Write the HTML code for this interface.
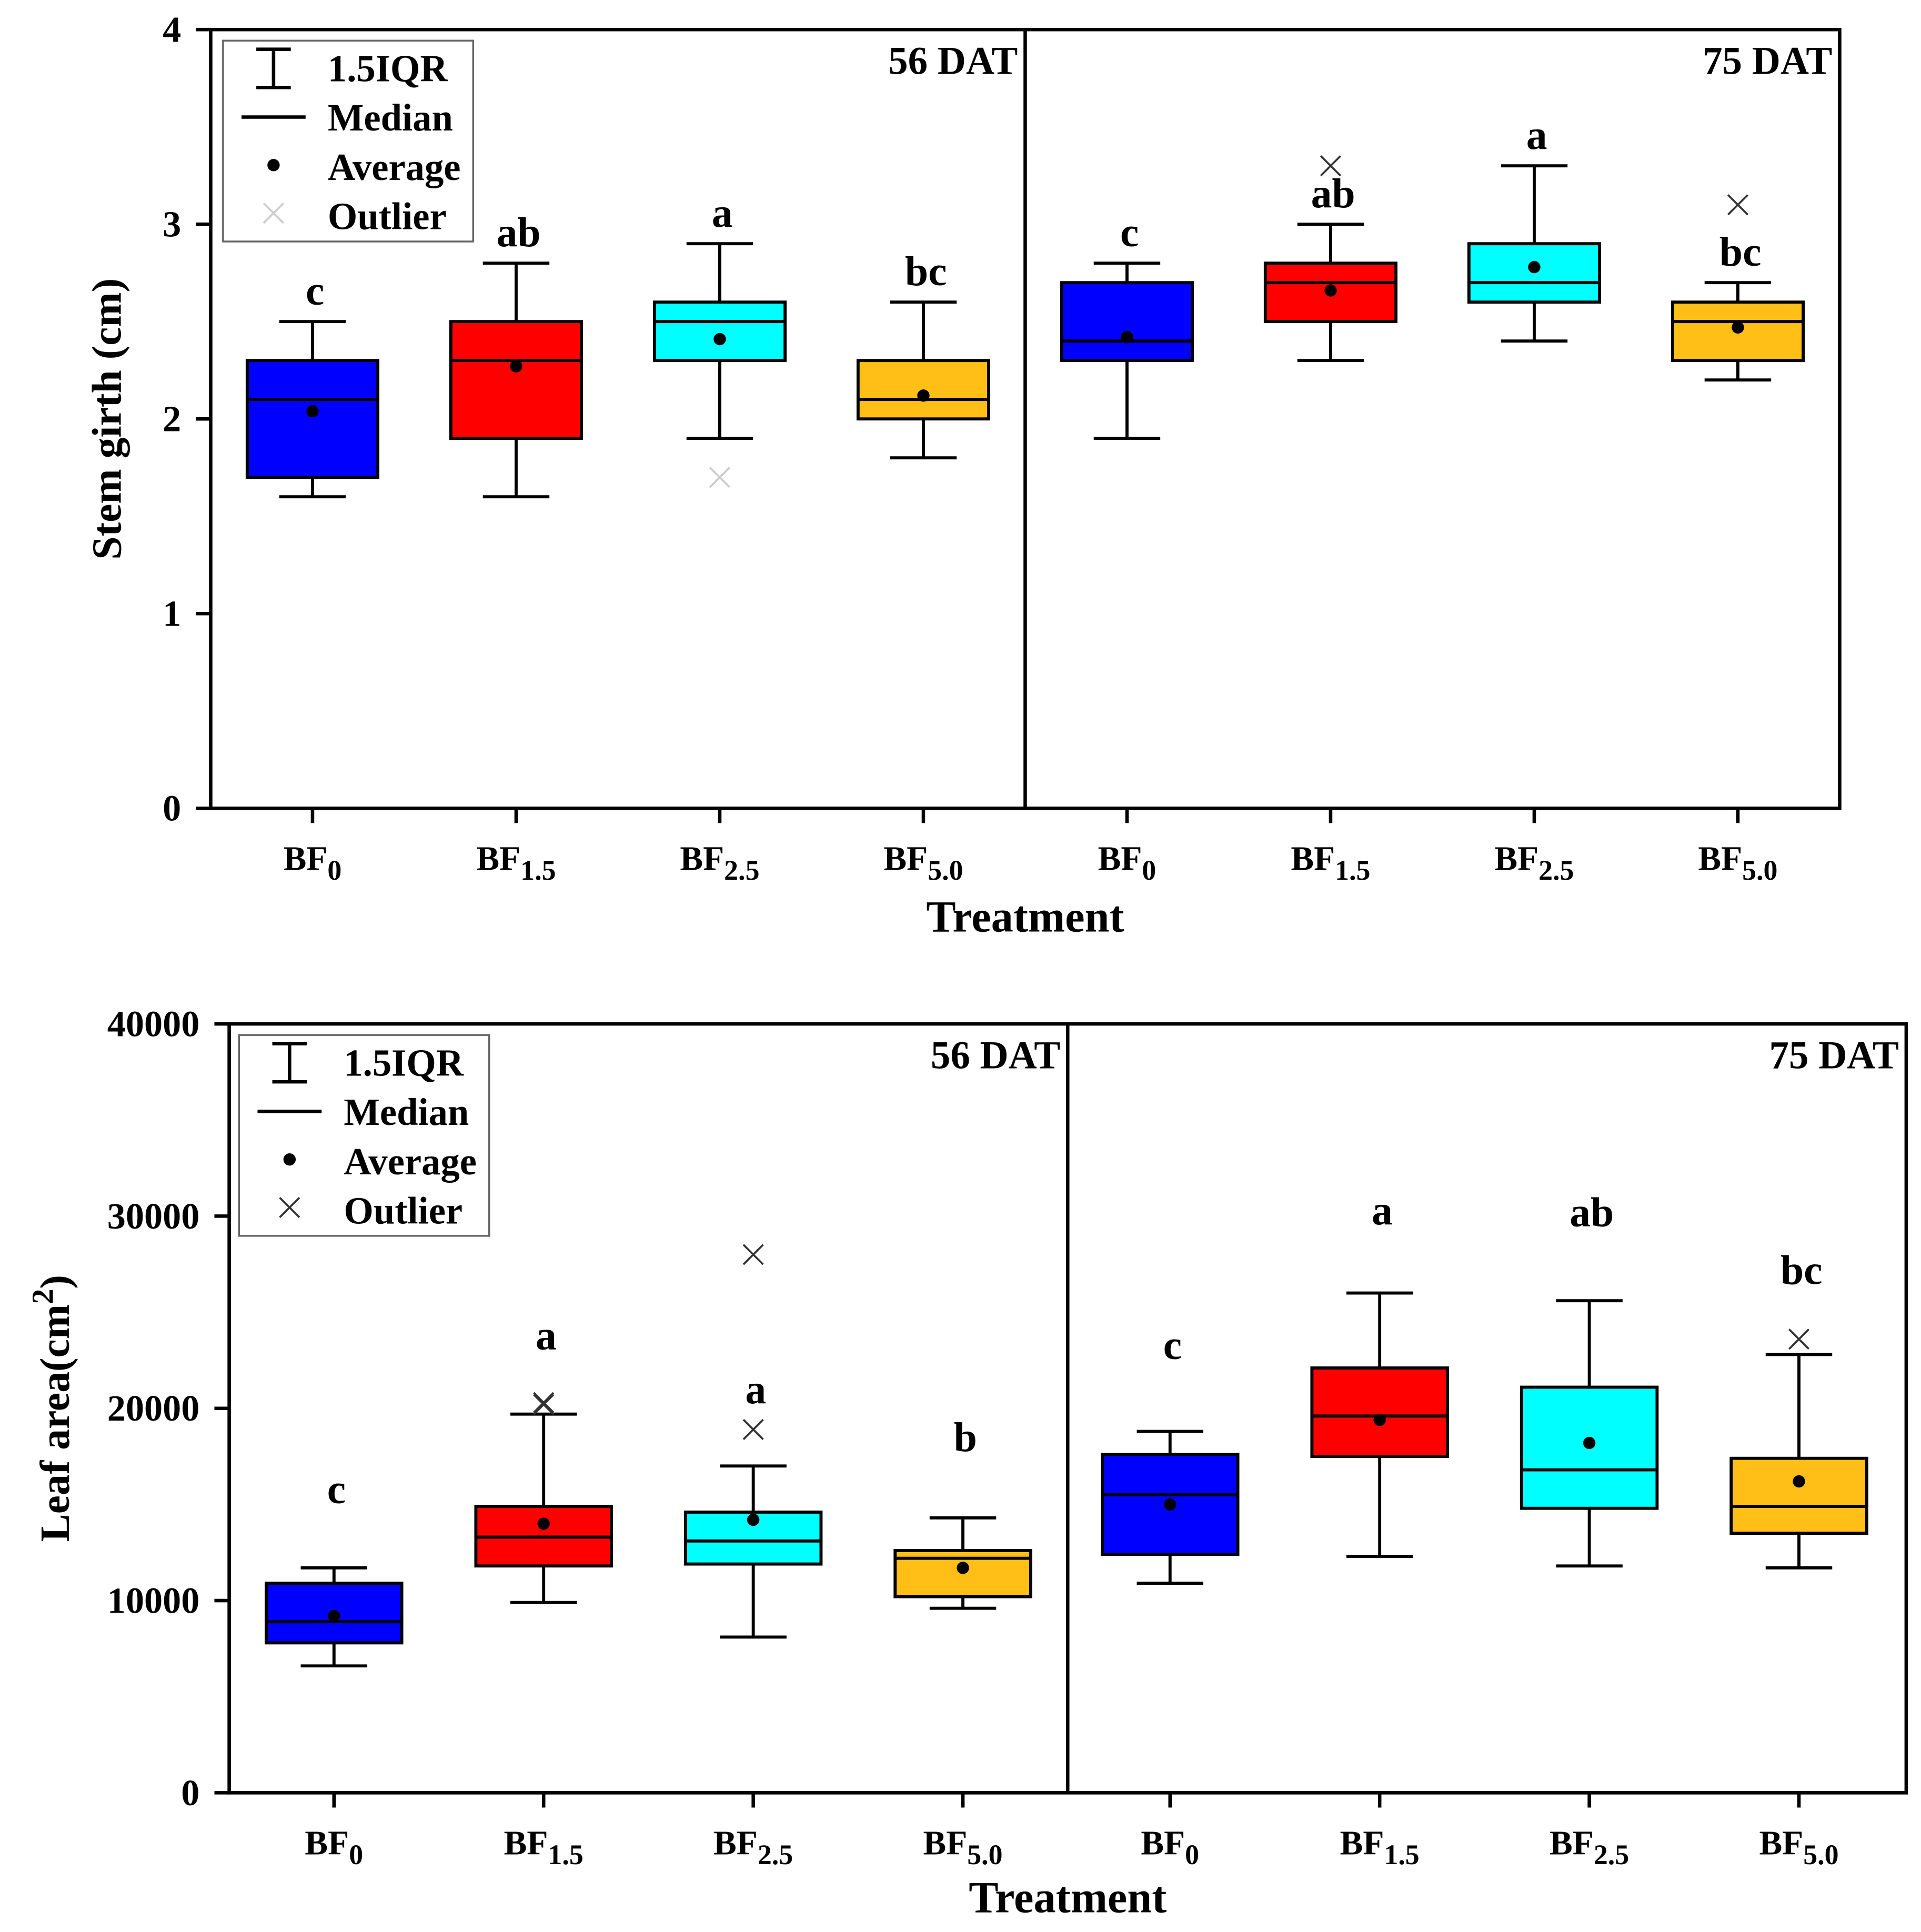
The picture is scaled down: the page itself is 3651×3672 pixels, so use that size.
<!DOCTYPE html>
<html><head><meta charset="utf-8">
<style>html,body{margin:0;padding:0;background:#fff}svg{display:block}text{font-family:"Liberation Serif",serif;font-weight:bold;fill:#000}</style>
</head><body>
<svg id="chart" width="3651" height="3672" viewBox="0 0 1559 1568" preserveAspectRatio="none" xmlns="http://www.w3.org/2000/svg"></svg>
<script>
const categories = ["BF0","BF1.5","BF2.5","BF5.0","BF0","BF1.5","BF2.5","BF5.0"];
const subs = ["0","1.5","2.5","5.0","0","1.5","2.5","5.0"];
const colors = ["#0000ff","#ff0000","#00ffff","#ffbf17","#0000ff","#ff0000","#00ffff","#ffbf17"];
// Stem girth
const sgWhiskLo = [1.6,1.6,1.9,1.8,1.9,2.3,2.4,2.2];
const sgWhiskHi = [2.5,2.8,2.9,2.6,2.8,3.0,3.3,2.7];
const sgQ1 = [1.7,1.9,2.3,2.0,2.3,2.5,2.6,2.3];
const sgQ3 = [2.3,2.5,2.6,2.3,2.7,2.8,2.9,2.6];
const sgMed = [2.1,2.3,2.5,2.1,2.4,2.7,2.7,2.5];
const sgMean = [2.04,2.27,2.41,2.12,2.42,2.66,2.78,2.47];
const sgOutliers = [[],[],[1.7],[],[],[3.3],[],[3.1]];
const sgLetters = ["c","ab","a","bc","c","ab","a","bc"];
const sgLetterY = [2.6,2.9,3.0,2.7,2.9,3.1,3.4,2.8];
const sgTicks = [0,1,2,3,4];
// Leaf area
const laWhiskLo = [6600,9900,8100,9600,10900,12300,11800,11700];
const laWhiskHi = [11700,19700,17000,14300,18800,26000,25600,22800];
const laQ1 = [7800,11800,11900,10200,12400,17500,14800,13500];
const laQ3 = [10900,14900,14600,12600,17600,22100,21100,17400];
const laMed = [8900,13300,13100,12200,15500,19600,16800,14900];
const laMean = [9200,14000,14200,11700,15000,19400,18200,16200];
const laOutliers = [[],[20300,20200],[18900,28000],[],[],[],[],[23600]];
const laLetters = ["c","a","a","b","c","a","ab","bc"];
const laLetterY = [15200,23200,20400,17900,22700,29700,29600,26600];
const laTicks = [0,10000,20000,30000,40000];

const NS="http://www.w3.org/2000/svg";
const svg=document.getElementById('chart');
function mk(tag,attrs,parent){const e=document.createElementNS(NS,tag);for(const k in attrs)e.setAttribute(k,attrs[k]);(parent||svg).appendChild(e);return e;}

function panel(cfg){
  const g=mk('g',{});
  
  
  const y=v=>cfg.y0-(v-cfg.vmin)/(cfg.vmax-cfg.vmin)*(cfg.y0-cfg.y1);
  const step=(cfg.x1-cfg.x0)/8;
  const x=i=>cfg.x0+step*(i+0.5)+(i>=4?cfg.off:0);
  const hw=cfg.hw;
  const fr=mk('rect',{x:cfg.x0,y:cfg.y1,width:cfg.x1-cfg.x0,height:cfg.y0-cfg.y1,fill:'none',stroke:'#000','stroke-width':2.8},g);
  
  
  const dv=mk('line',{x1:(cfg.x0+cfg.x1)/2,x2:(cfg.x0+cfg.x1)/2,y1:cfg.y1,y2:cfg.y0,stroke:'#000','stroke-width':2.8},g);
  
  
  cfg.ticks.forEach(t=>{
    mk('line',{x1:cfg.x0-12,x2:cfg.x0,y1:y(t),y2:y(t),stroke:'#000','stroke-width':2.8},g);
    const tl=mk('text',{x:cfg.x0-24,y:y(t)+10,'text-anchor':'end','font-size':30},g);
    tl.textContent=t;
    
    
  });
  const yt=mk('text',{x:0,y:0,'text-anchor':'middle','font-size':34,transform:`translate(${cfg.ytx},${(cfg.y0+cfg.y1)/2}) rotate(-90)`},g);
  yt.innerHTML=cfg.ytitle;
  
  
  const xt=mk('text',{x:(cfg.x0+cfg.x1)/2,y:cfg.xty,'text-anchor':'middle','font-size':36},g);
  xt.textContent='Treatment';
  
  
  [['56 DAT',(cfg.x0+cfg.x1)/2-6],['75 DAT',cfg.x1-6]].forEach(([s,px])=>{
    const t=mk('text',{x:px,y:cfg.y1+36,'text-anchor':'end','font-size':32},g);
    t.textContent=s;
    
    
  });
  for(let i=0;i<8;i++){
    const cx=x(i);
    mk('line',{x1:cx,x2:cx,y1:cfg.y0,y2:cfg.y0+12,stroke:'#000','stroke-width':2.8},g);
    const xl=mk('text',{x:cx,y:cfg.y0+50,'text-anchor':'middle','font-size':28},g);
    xl.innerHTML='BF<tspan font-size="23" dy="8">'+subs[i]+'</tspan>';
    
    
    const bg=mk('g',{},g);
    
    
    const d=cfg.data;
    mk('line',{x1:cx,x2:cx,y1:y(d.lo[i]),y2:y(d.hi[i]),stroke:'#000','stroke-width':2.5},bg);
    mk('line',{x1:cx-27,x2:cx+27,y1:y(d.lo[i]),y2:y(d.lo[i]),stroke:'#000','stroke-width':2.5},bg);
    mk('line',{x1:cx-27,x2:cx+27,y1:y(d.hi[i]),y2:y(d.hi[i]),stroke:'#000','stroke-width':2.5},bg);
    mk('rect',{x:cx-hw,y:y(d.q3[i]),width:2*hw,height:y(d.q1[i])-y(d.q3[i]),fill:colors[i],stroke:'#000','stroke-width':2.5},bg);
    mk('line',{x1:cx-hw,x2:cx+hw,y1:y(d.med[i]),y2:y(d.med[i]),stroke:'#000','stroke-width':2.5},bg);
    mk('circle',{cx:cx,cy:y(d.mean[i]),r:5,fill:'#000'},bg);
    d.out[i].forEach(o=>{
      const oy=y(o),c=cfg.outColor(i,o);
      mk('path',{d:`M${cx-8} ${oy-8}L${cx+8} ${oy+8}M${cx+8} ${oy-8}L${cx-8} ${oy+8}`,stroke:c,'stroke-width':1.6,fill:'none'},bg);
    });
    const lt=mk('text',{x:cx+2,y:y(d.ly[i])+2,'text-anchor':'middle','font-size':34},g);
    lt.textContent=d.let[i];
    
    
  }
  const L=cfg.leg;
  const lg=mk('g',{},g);
  
  
  mk('rect',{x:L.x,y:L.y,width:203,height:163,fill:'#fff',stroke:'#666','stroke-width':1.5},lg);
  const lx=L.x+41;
  mk('path',{d:`M${lx-14} ${L.y+7}H${lx+14}M${lx} ${L.y+7}V${L.y+38}M${lx-14} ${L.y+38}H${lx+14}`,stroke:'#000','stroke-width':2.8,fill:'none'},lg);
  mk('line',{x1:lx-26,x2:lx+26,y1:L.y+62,y2:L.y+62,stroke:'#000','stroke-width':2.8},lg);
  mk('circle',{cx:lx,cy:L.y+101,r:5,fill:'#000'},lg);
  mk('path',{d:`M${lx-8} ${L.y+132}L${lx+8} ${L.y+148}M${lx+8} ${L.y+132}L${lx-8} ${L.y+148}`,stroke:L.xc,'stroke-width':1.6,fill:'none'},lg);
  ['1.5IQR','Median','Average','Outlier'].forEach((s,k)=>{
    const t=mk('text',{x:L.x+85,y:L.y+33+k*40,'font-size':31},lg);
    t.textContent=s;
    
    
  });
}
panel({name:'stem-girth-chart',x0:171,x1:1493,y0:656,y1:24,vmin:0,vmax:4,hw:53,off:0,ticks:sgTicks,
  ytitle:'Stem girth (cm)',ytx:98,xty:756,leg:{x:181,y:33,xc:'#ccc'},
  outColor:(i,o)=>i<4?'#ccc':'#333',
  data:{lo:sgWhiskLo,hi:sgWhiskHi,q1:sgQ1,q3:sgQ3,med:sgMed,mean:sgMean,out:sgOutliers,let:sgLetters,ly:sgLetterY}});
panel({name:'leaf-area-chart',x0:186,x1:1547,y0:1455,y1:831,vmin:0,vmax:40000,hw:55,off:-2,ticks:laTicks,
  ytitle:'Leaf area(cm<tspan font-size="25" dy="-13">2</tspan><tspan dy="13">)</tspan>',ytx:56,xty:1552,leg:{x:194,y:840,xc:'#333'},
  outColor:()=>'#333',
  data:{lo:laWhiskLo,hi:laWhiskHi,q1:laQ1,q3:laQ3,med:laMed,mean:laMean,out:laOutliers,let:laLetters,ly:laLetterY}});
</script>
</body></html>
